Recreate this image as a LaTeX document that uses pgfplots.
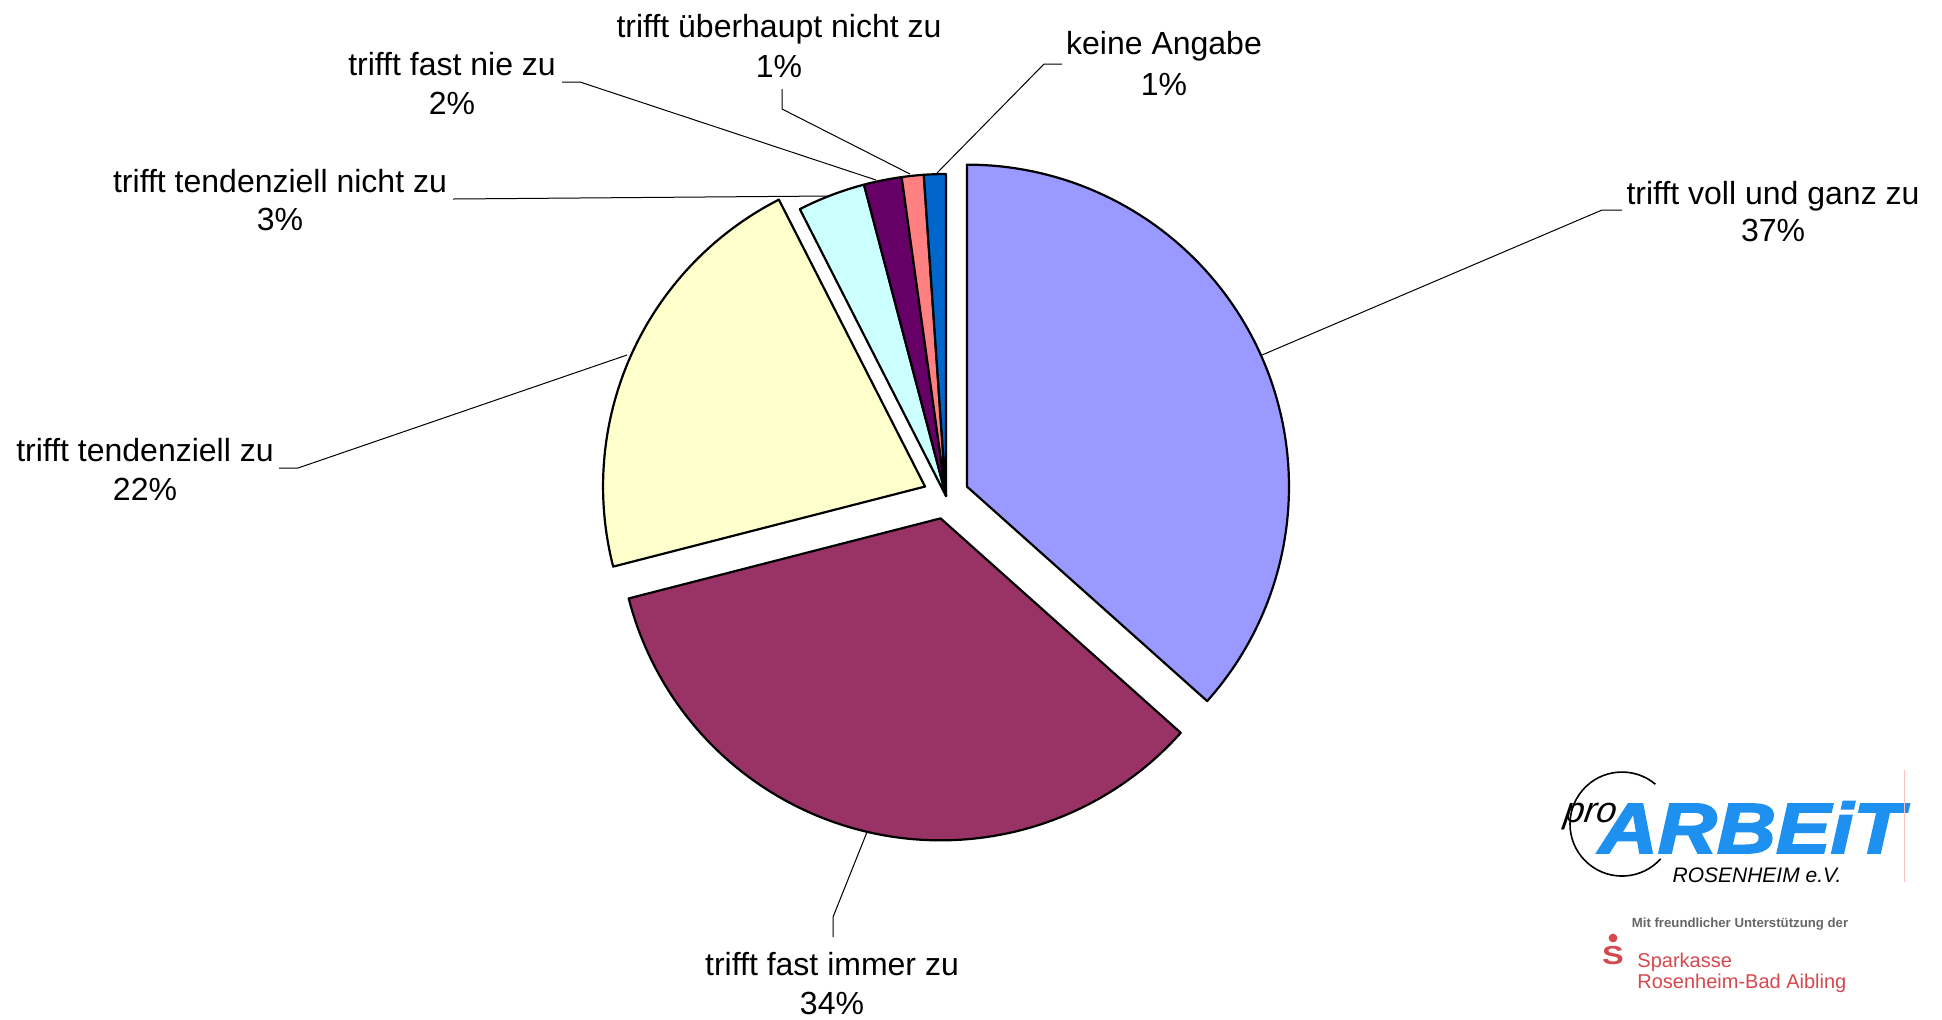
\documentclass[border=0pt]{standalone}
\usepackage{pgfplots}
\pgfplotsset{compat=1.18}
\usepackage{fontspec}
\setmainfont{Liberation Sans}
\newfontfamily\heavyfont{Liberation Sans}[UprightFont=* Bold Italic, FakeBold=2.5]
\definecolor{cA}{HTML}{9999FF}
\definecolor{cB}{HTML}{993366}
\definecolor{cC}{HTML}{FFFFCC}
\definecolor{cD}{HTML}{CCFFFF}
\definecolor{cE}{HTML}{660066}
\definecolor{cF}{HTML}{FF8080}
\definecolor{cG}{HTML}{0066CC}
\definecolor{logoblue}{RGB}{30,144,240}
\definecolor{sparred}{RGB}{212,72,78}
% #1 cumulative percent before slice, #2 percent, #3 colour, #4 explosion (px)
\newcommand{\slice}[4]{%
  \pgfmathsetmacro{\aA}{90-3.6*(#1+#2)}%
  \pgfmathsetmacro{\aB}{90-3.6*(#1)}%
  \pgfmathsetmacro{\aM}{(\aA+\aB)/2}%
  \pgfmathsetmacro{\ox}{946+#4*cos(\aM)}%
  \pgfmathsetmacro{\oy}{496-#4*sin(\aM)}%
  \edef\temp{\noexpand\addplot[fill=#3,draw=black,line width=1.1pt,line join=round,
     domain=\aA:\aB,samples=90,variable=\noexpand\t]
     ({\ox+322*cos(\noexpand\t)},{\oy-322*sin(\noexpand\t)}) -- (axis cs:\ox,\oy) -- cycle;}%
  \temp}
\newcommand{\lab}{\fontsize{16}{18}\selectfont}
\begin{document}
\begin{tikzpicture}
\begin{axis}[name=ax, hide axis, scale only axis, width=971pt, height=509.5pt,
  xmin=0, xmax=1942, ymin=0, ymax=1019, y dir=reverse, clip=false]
% leader lines
\addplot[black, line width=0.5pt] coordinates {(1622,210) (1602,210) (1262,355)};
\addplot[black, line width=0.5pt] coordinates {(833,937) (833,917) (867,832)};
\addplot[black, line width=0.5pt] coordinates {(279,468) (298,468) (627,355)};
\addplot[black, line width=0.5pt] coordinates {(453,199) (829,196)};
\addplot[black, line width=0.5pt] coordinates {(562,82) (580,82) (876,180)};
\addplot[black, line width=0.5pt] coordinates {(782,89) (782,109) (910,174)};
\addplot[black, line width=0.5pt] coordinates {(1062,64) (1044,64) (936,174)};
% slices (shares in percent)
\slice{0}{36.6}{cA}{23}
\slice{36.6}{34.4}{cB}{23}
\slice{71.0}{21.5}{cC}{23}
\slice{92.5}{3.4}{cD}{0}
\slice{95.9}{1.9}{cE}{0}
\slice{97.8}{1.1}{cF}{0}
\slice{98.9}{1.1}{cG}{0}
% labels
\node[font=\lab, anchor=base, inner sep=0] at (axis cs:1773,204) {trifft voll und ganz zu};
\node[font=\lab, anchor=base, inner sep=0] at (axis cs:1773,241) {37\%};
\node[font=\lab, anchor=base, inner sep=0] at (axis cs:832,975) {trifft fast immer zu};
\node[font=\lab, anchor=base, inner sep=0] at (axis cs:832,1014) {34\%};
\node[font=\lab, anchor=base, inner sep=0] at (axis cs:145,461) {trifft tendenziell zu};
\node[font=\lab, anchor=base, inner sep=0] at (axis cs:145,500) {22\%};
\node[font=\lab, anchor=base, inner sep=0] at (axis cs:280,192) {trifft tendenziell nicht zu};
\node[font=\lab, anchor=base, inner sep=0] at (axis cs:280,230) {3\%};
\node[font=\lab, anchor=base, inner sep=0] at (axis cs:452,75) {trifft fast nie zu};
\node[font=\lab, anchor=base, inner sep=0] at (axis cs:452,114) {2\%};
\node[font=\lab, anchor=base, inner sep=0] at (axis cs:779,37) {trifft überhaupt nicht zu};
\node[font=\lab, anchor=base, inner sep=0] at (axis cs:779,77) {1\%};
\node[font=\lab, anchor=base, inner sep=0] at (axis cs:1164,54) {keine Angabe};
\node[font=\lab, anchor=base, inner sep=0] at (axis cs:1164,95) {1\%};
% logos
\draw[black, line width=0.8pt] (axis cs:1655.4,784.2) arc[start angle=50, end angle=318, radius=26pt];
\node[font=\itshape\fontsize{18}{19}\selectfont, anchor=base, inner sep=0, xslant=0.15] at (axis cs:1589,822) {pro};
\node[font=\heavyfont\fontsize{35.6}{36}\selectfont, text=logoblue, anchor=base, inner sep=0, xscale=1.15] at (axis cs:1751,853) {ARBEiT};
\node[font=\itshape\fontsize{10.5}{12}\selectfont, anchor=base, inner sep=0] at (axis cs:1757,882) {ROSENHEIM e.V.};
\draw[red!25, line width=0.4pt] (axis cs:1904,770) -- (axis cs:1904,882);
\node[font=\bfseries\fontsize{6.6}{8}\selectfont, text=black!60, anchor=base, inner sep=0] at (axis cs:1740,927) {Mit freundlicher Unterstützung der};
\node[font=\bfseries\fontsize{13}{14}\selectfont, text=sparred, anchor=base, inner sep=0, xscale=1.25] at (axis cs:1613,964) {S};
\fill[sparred] (axis cs:1613,938) circle[radius=2.2pt];
\node[font=\fontsize{10}{12}\selectfont, text=sparred, anchor=base west, inner sep=0] at (axis cs:1637,967) {Sparkasse};
\node[font=\fontsize{10}{12}\selectfont, text=sparred, anchor=base west, inner sep=0] at (axis cs:1637,988) {Rosenheim-Bad Aibling};
\end{axis}
\pgfresetboundingbox
\path[use as bounding box] (ax.south west) rectangle (ax.north east);
\end{tikzpicture}
\end{document}
